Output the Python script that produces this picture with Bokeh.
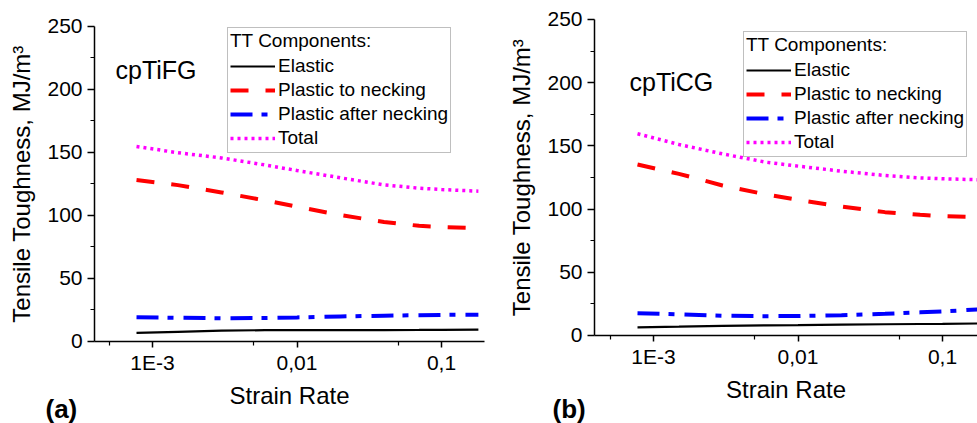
from bokeh.plotting import figure
from bokeh.models import (Legend, LegendItem, Label, FixedTicker, CustomJSTickFormatter, Range1d)
from bokeh.layouts import row
from bokeh.embed import file_html
from bokeh.resources import INLINE

FONT = "Liberation Sans"

# ---------------- data ----------------
strain_rate = [7.75e-4, 1.5e-3, 3e-3, 6e-3, 0.01, 0.02, 0.04, 0.07, 0.1, 0.18]

fg_elastic = [6.9, 7.7, 8.6, 9.0, 9.0, 9.0, 9.1, 9.2, 9.3, 9.5]
fg_plastic_to_necking = [128.1, 124.1, 118.3, 112.0, 107.0, 100.3, 94.9, 91.8, 90.9, 89.9]
fg_plastic_after_necking = [19.3, 18.8, 18.5, 18.7, 19.1, 19.9, 20.5, 20.9, 21.1, 21.3]
fg_total = [154.8, 149.8, 145.7, 140.1, 135.7, 129.9, 124.3, 121.7, 120.6, 119.3]

cg_elastic = [6.5, 7.0, 7.6, 8.0, 8.2, 8.6, 8.9, 9.1, 9.2, 9.5]
cg_plastic_to_necking = [135.3, 127.9, 118.7, 111.6, 107.3, 102.0, 97.6, 95.5, 94.4, 93.6]
cg_plastic_after_necking = [17.7, 16.7, 15.6, 15.3, 15.4, 16.1, 17.2, 18.3, 19.0, 20.7]
cg_total = [159.6, 151.1, 143.7, 137.1, 134.0, 130.0, 126.6, 124.7, 124.0, 123.2]

series_names = ["Elastic", "Plastic to necking", "Plastic after necking", "Total"]
legend_title = "TT Components:"
x_major_ticks = [1e-3, 1e-2, 1e-1]
x_minor_ticks = [5e-4, 5e-3, 5e-2]
x_tick_labels = ["1E-3", "0,01", "0,1"]
y_major_ticks = [0, 50, 100, 150, 200, 250]
y_minor_ticks = [25, 75, 125, 175, 225]
y_axis_span = (0, 250)
x_title = "Strain Rate"
y_title = "Tensile Toughness, MJ/m\u00b3"

# ---------------- styles ----------------
styles = [
    dict(line_color="#000000", line_width=2.2, line_dash="solid"),
    dict(line_color="#FF0000", line_width=4, line_dash="18 17"),
    dict(line_color="#0000FF", line_width=4, line_dash="22 9 6 10"),
    dict(line_color="#FF00FF", line_width=3.5, line_dash="3 4"),
]


def make_panel(series, sample, tag, width, height, view_x, view_y, axis_x, legend_loc,
               sample_pos, tag_pos):
    # the frame covers the whole figure; axes are pinned at data positions
    p = figure(width=width, height=height, x_axis_type="log",
               x_range=Range1d(*view_x), y_range=Range1d(*view_y),
               min_border=0, toolbar_location=None, output_backend="svg")
    p.xgrid.visible = False
    p.ygrid.visible = False
    p.outline_line_color = None
    p.background_fill_color = "white"
    p.border_fill_color = "white"

    renderers = []
    for ys, st in zip(series, styles):
        renderers.append(p.line(strain_rate, ys, **st))

    p.xaxis.fixed_location = y_axis_span[0]
    p.yaxis.fixed_location = axis_x[0]
    p.xaxis.bounds = axis_x
    p.yaxis.bounds = y_axis_span

    p.xaxis.ticker = FixedTicker(ticks=x_major_ticks, minor_ticks=x_minor_ticks)
    p.xaxis.formatter = CustomJSTickFormatter(
        args=dict(vals=x_major_ticks, labs=x_tick_labels),
        code="""
        for (let i = 0; i < vals.length; i++) {
            if (Math.abs(Math.log10(vals[i]) - Math.log10(tick)) < 1e-6) return labs[i];
        }
        return "";
        """)
    p.yaxis.ticker = FixedTicker(ticks=y_major_ticks, minor_ticks=y_minor_ticks)
    p.xaxis.axis_label = x_title
    p.yaxis.axis_label = y_title
    for ax in (p.xaxis, p.yaxis):
        ax.axis_line_color = "black"
        ax.axis_line_width = 1.5
        ax.major_tick_line_color = "black"
        ax.major_tick_line_width = 1.5
        ax.minor_tick_line_color = "black"
        ax.minor_tick_line_width = 1.2
        ax.major_tick_in = 0
        ax.minor_tick_in = 0
        ax.minor_tick_out = 4
        ax.major_label_text_font = FONT
        ax.major_label_text_font_size = "21px"
        ax.major_label_text_color = "black"
        ax.axis_label_text_font = FONT
        ax.axis_label_text_font_size = "24px"
        ax.axis_label_text_font_style = "normal"
        ax.axis_label_text_color = "black"
    p.xaxis.major_tick_out = 6
    p.yaxis.major_tick_out = 7
    p.xaxis.major_label_standoff = 4
    p.yaxis.major_label_standoff = 5
    p.xaxis.axis_label_standoff = 4
    p.yaxis.axis_label_standoff = 9

    legend = Legend(
        items=[LegendItem(label=n, renderers=[r]) for n, r in zip(series_names, renderers)],
        title=legend_title, location=legend_loc,
        glyph_width=45, glyph_height=24, label_height=24, label_standoff=3,
        padding=2, spacing=0, margin=0, title_standoff=2,
        label_text_font=FONT, label_text_font_size="19px", label_text_color="black",
        title_text_font=FONT, title_text_font_size="19px", title_text_font_style="normal",
        title_text_color="black",
        border_line_color="#808080", border_line_width=1.2,
        background_fill_color="white", background_fill_alpha=1.0,
    )
    p.add_layout(legend)

    p.add_layout(Label(x=sample_pos[0], y=sample_pos[1], x_units="screen", y_units="screen",
                       text=sample, text_font=FONT, text_font_size="25px",
                       text_color="black", text_baseline="alphabetic"))
    p.add_layout(Label(x=tag_pos[0], y=tag_pos[1], x_units="screen", y_units="screen",
                       text=tag, text_font=FONT, text_font_size="26px", text_font_style="bold",
                       text_color="black", text_baseline="alphabetic"))
    return p


p1 = make_panel([fg_elastic, fg_plastic_to_necking, fg_plastic_after_necking, fg_total],
                "cpTiFG", "(a)", 487, 423,
                (10 ** -4.0519, 10 ** -0.6817), (-65.08, 270.63),
                (10 ** -3.401, 10 ** -0.702), (227, 270), (115, 354), (45, 15))
p2 = make_panel([cg_elastic, cg_plastic_to_necking, cg_plastic_after_necking, cg_total],
                "cpTiCG", "(b)", 490, 423,
                (10 ** -4.1488, 10 ** -0.7578), (-69.62, 265.03),
                (10 ** -3.408, 10 ** -0.7578), (256, 266), (142, 342), (65, 15))

layout = row(p1, p2)
open("out.html", "w").write(file_html(layout, INLINE))
